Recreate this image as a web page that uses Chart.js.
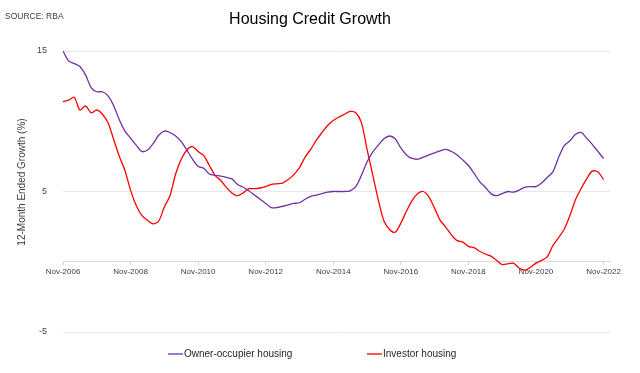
<!DOCTYPE html>
<html>
<head>
<meta charset="utf-8">
<title>Housing Credit Growth</title>
<script src="https://cdn.jsdelivr.net/npm/chart.js@4.4.0/dist/chart.umd.min.js"></script>
<style>
  html, body { margin: 0; padding: 0; background: #fff; }
  #wrap { width: 640px; height: 373px; }
</style>
</head>
<body>
<div id="wrap"><canvas id="lineChart" width="640" height="373"></canvas></div>
<script>
// months since Nov-2006, one value every 2 months (Nov-2006 .. Nov-2022)
const stepMonths = 2;

const ownerOccupier = [
  15.0, 14.3, 14.1, 13.9, 13.3, 12.4, 12.1, 12.1, 11.8, 11.1,
  10.1, 9.3, 8.8, 8.3, 7.85, 7.95, 8.4, 9.0, 9.3, 9.2,
  8.95, 8.55, 7.95, 7.3, 6.8, 6.65, 6.25, 6.15, 6.1, 6.0,
  5.9, 5.5, 5.3, 5.05, 4.75, 4.45, 4.15, 3.85, 3.85, 3.95,
  4.05, 4.15, 4.2, 4.45, 4.65, 4.75, 4.85, 4.95, 5.0, 5.0,
  5.0, 5.05, 5.35, 6.15, 7.1, 7.8, 8.3, 8.75, 8.95, 8.75,
  8.1, 7.6, 7.35, 7.3, 7.45, 7.6, 7.75, 7.9, 8.0, 7.85,
  7.6, 7.25, 6.85, 6.3, 5.7, 5.3, 4.85, 4.7, 4.85, 5.0,
  4.95, 5.1, 5.3, 5.35, 5.35, 5.6, 6.0, 6.4, 7.4, 8.25,
  8.6, 9.05, 9.2, 8.8, 8.35, 7.85, 7.35
];

const investor = [
  11.4, 11.5, 11.7, 10.8, 11.1, 10.6, 10.8, 10.5, 9.9, 8.7,
  7.5, 6.5, 5.1, 4.0, 3.3, 2.95, 2.7, 2.9, 3.9, 4.7,
  6.25, 7.3, 7.95, 8.2, 7.85, 7.55, 6.85, 6.15, 5.8, 5.3,
  4.9, 4.7, 4.9, 5.2, 5.2, 5.25, 5.35, 5.5, 5.55, 5.6,
  5.85, 6.2, 6.7, 7.45, 8.0, 8.65, 9.2, 9.7, 10.05, 10.3,
  10.5, 10.7, 10.6, 9.9, 8.0, 6.2, 4.4, 2.9, 2.3, 2.1,
  2.75, 3.6, 4.35, 4.85, 5.0, 4.6, 3.8, 2.95, 2.45, 1.9,
  1.5, 1.4, 1.1, 1.0, 0.75, 0.55, 0.4, 0.1, -0.2, -0.15,
  -0.1, -0.45, -0.6, -0.4, -0.1, 0.1, 0.35, 1.15, 1.7, 2.3,
  3.25, 4.4, 5.2, 5.9, 6.45, 6.4, 5.85
];

const tickMonths = [0, 24, 48, 72, 96, 120, 144, 168, 192];
const tickLabels = ['Nov-2006', 'Nov-2008', 'Nov-2010', 'Nov-2012', 'Nov-2014',
                    'Nov-2016', 'Nov-2018', 'Nov-2020', 'Nov-2022'];
const yTicks = [-5, 5, 15];

const seriesNames = ['Owner-occupier housing', 'Investor housing'];
const seriesColors = ['#7030A0', '#FF0000'];

function toPoints(arr) {
  return arr.map(function (v, i) { return { x: i * stepMonths, y: v }; });
}

const FONT = '"Liberation Sans", Arial, sans-serif';

// title, source note, y title and legend drawn on the canvas
const decorations = {
  id: 'decorations',
  afterDraw: function (chart) {
    const c = chart.ctx;
    c.save();
    c.fillStyle = '#000';
    c.textBaseline = 'alphabetic';
    c.textAlign = 'center';
    c.font = '16px ' + FONT;
    c.fillText('Housing Credit Growth', 310, 24);

    c.textAlign = 'left';
    c.fillStyle = '#404040';
    c.font = '8.5px ' + FONT;
    c.textBaseline = 'middle';
    c.fillText('SOURCE: RBA', 5, 17);

    // y axis title
    c.save();
    c.translate(22, 182);
    c.rotate(-Math.PI / 2);
    c.textAlign = 'center';
    c.fillStyle = '#404040';
    c.font = '10px ' + FONT;
    c.fillText('12-Month Ended Growth (%)', 0, 0);
    c.restore();

    // legend
    const items = [{ x: 168 }, { x: 367 }];
    c.font = '10px ' + FONT;
    c.textAlign = 'left';
    c.textBaseline = 'middle';
    items.forEach(function (it, i) {
      c.strokeStyle = seriesColors[i];
      c.lineWidth = 1.3;
      c.beginPath();
      c.moveTo(it.x, 354);
      c.lineTo(it.x + 15, 354);
      c.stroke();
      c.fillStyle = '#262626';
      c.fillText(seriesNames[i], it.x + 16, 354);
    });
    c.restore();
  }
};

const ctx = document.getElementById('lineChart');
const myChart = new Chart(ctx, {
  type: 'line',
  data: {
    datasets: [{
      label: seriesNames[0],
      data: toPoints(ownerOccupier),
      borderColor: seriesColors[0],
      backgroundColor: seriesColors[0],
      borderWidth: 1.3,
      pointRadius: 0,
      tension: 0.3,
      fill: false
    }, {
      label: seriesNames[1],
      data: toPoints(investor),
      borderColor: seriesColors[1],
      backgroundColor: seriesColors[1],
      borderWidth: 1.3,
      pointRadius: 0,
      tension: 0.3,
      fill: false
    }]
  },
  options: {
    responsive: false,
    animation: false,
    layout: { padding: { left: 0, top: 51, right: 30, bottom: 41 } },
    plugins: {
      legend: { display: false },
      title: { display: false },
      tooltip: { enabled: false }
    },
    scales: {
      x: {
        type: 'linear',
        position: { y: 0 },
        min: 0,
        max: 194.3,
        afterBuildTicks: function (axis) {
          axis.ticks = tickMonths.map(function (v) { return { value: v }; });
        },
        ticks: {
          autoSkip: false,
          maxRotation: 0,
          padding: 2,
          color: '#404040',
          font: { family: FONT, size: 8 },
          callback: function (value) {
            const i = tickMonths.indexOf(value);
            return i >= 0 ? tickLabels[i] : '';
          }
        },
        grid: { drawOnChartArea: false, tickLength: 3, color: '#d9d9d9' },
        border: { display: true, color: '#d9d9d9' }
      },
      y: {
        min: -5,
        max: 15,
        afterBuildTicks: function (axis) {
          axis.ticks = yTicks.map(function (v) { return { value: v }; });
        },
        afterFit: function (axis) { axis.width = 63; },
        ticks: {
          padding: 16,
          color: '#404040',
          font: { family: FONT, size: 9 }
        },
        grid: { color: '#e8e8e8', drawTicks: false },
        border: { display: false }
      }
    }
  },
  plugins: [decorations]
});
</script>
</body>
</html>
